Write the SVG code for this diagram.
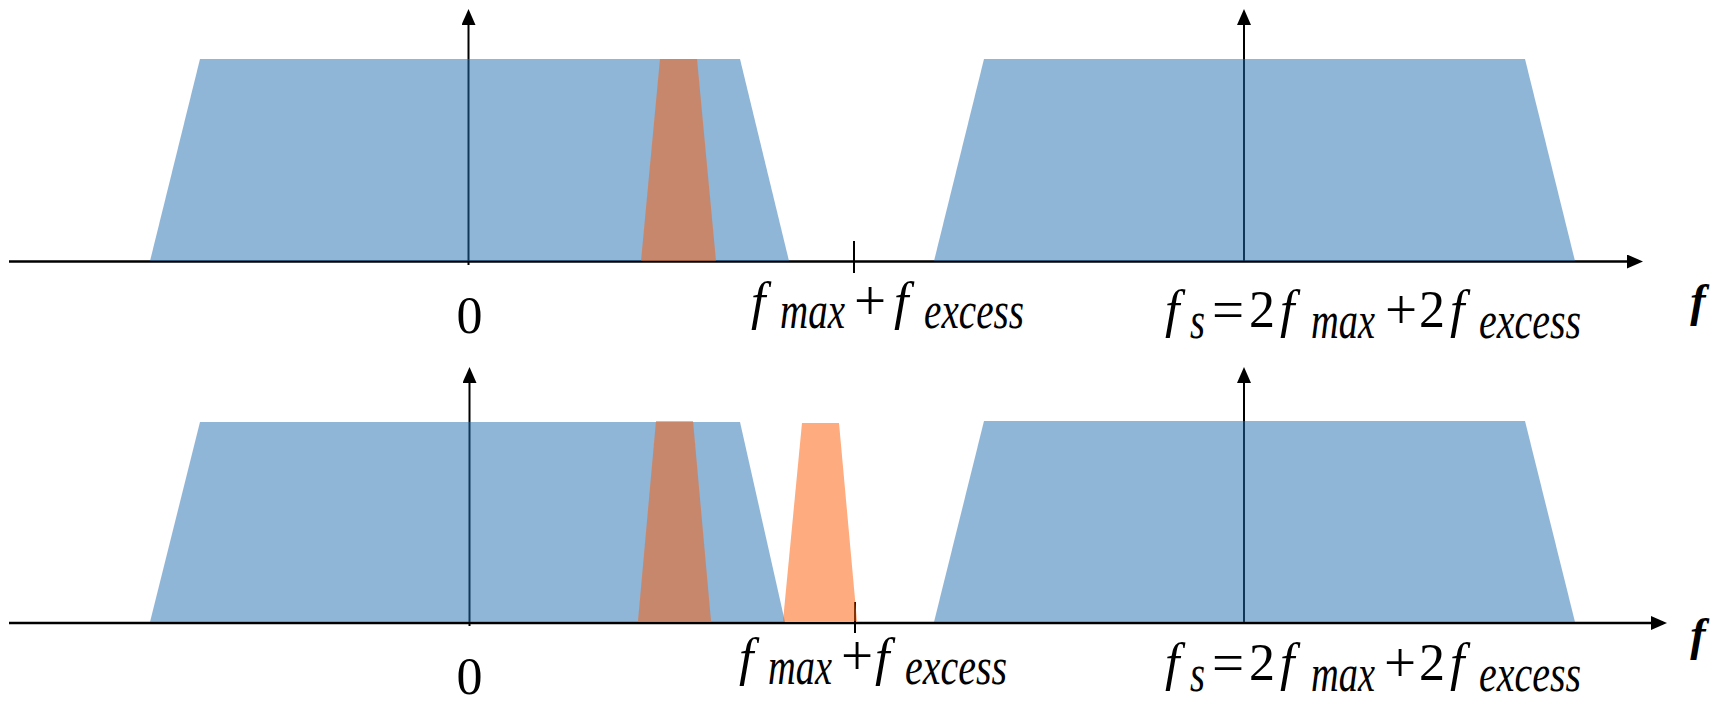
<svg xmlns="http://www.w3.org/2000/svg" width="1722" height="704" viewBox="0 0 1722 704">
<defs>
<marker id="arr" viewBox="0 0 16 14" markerWidth="16" markerHeight="14" refX="12" refY="7" markerUnits="userSpaceOnUse" orient="auto">
<path d="M0,0 L16,7 L0,14 z" fill="#000"/>
</marker>
</defs>
<style>
.ax{stroke:#000;stroke-width:2.5;fill:none}
.vax{stroke:#000;stroke-width:2;fill:none}
.tick{stroke:#000;stroke-width:2;fill:none}
.blue{fill:#1F6BAF;fill-opacity:0.5}
.orng{fill:#FB5D0A;fill-opacity:0.52}
.t{font-family:"Liberation Serif","Times New Roman",serif;font-style:italic;font-size:52px;fill:#000}
.c{text-anchor:middle}
.n{font-style:normal}
.op{font-style:normal;font-size:57px}
.fb{font-family:"Liberation Serif","Times New Roman",serif;font-style:italic;font-weight:bold;font-size:46px;text-anchor:middle;fill:#000}
</style>
<rect width="1722" height="704" fill="#fff"/>
<g id="connectors">
<line class="ax" x1="9" y1="261.5" x2="1639" y2="261.5" marker-end="url(#arr)"/>
<line class="vax" x1="468.5" y1="265" x2="468.5" y2="13" marker-end="url(#arr)"/>
<line class="vax" x1="1244" y1="262" x2="1244" y2="13" marker-end="url(#arr)"/>
<line class="tick" x1="854" y1="241" x2="854" y2="273"/>
<line class="ax" x1="9" y1="623" x2="1663" y2="623" marker-end="url(#arr)"/>
<line class="vax" x1="469.5" y1="626" x2="469.5" y2="371" marker-end="url(#arr)"/>
<line class="vax" x1="1244" y1="624" x2="1244" y2="371" marker-end="url(#arr)"/>
<line class="tick" x1="855" y1="602" x2="855" y2="633"/>
</g>
<g id="top-spectrum-baseband"><polygon class="blue" points="200,59 740,59 789,261 150,261"/></g>
<g id="top-spectrum-image"><polygon class="blue" points="984,59 1525,59 1575,261 934,261"/></g>
<g id="top-signal"><polygon class="orng" points="660,59 697,59 716,261 641,261"/></g>
<g id="bottom-spectrum-baseband"><polygon class="blue" points="200,422 740,422 785,622 150,622"/></g>
<g id="bottom-spectrum-image"><polygon class="blue" points="984,421 1525,421 1575,622 934,622"/></g>
<g id="bottom-signal"><polygon class="orng" points="656,421 693,421 711,621 638,621"/></g>
<g id="bottom-alias"><polygon class="orng" points="802,423 839,423 857,621 783,621"/></g>
<g id="top-label-zero"><text class="t n c" x="469.5" y="333">0</text></g>
<g id="top-label-fmax">
<text class="t"><tspan x="751" y="319">f</tspan><tspan x="780" y="328" textLength="65" lengthAdjust="spacingAndGlyphs">max</tspan><tspan class="op" x="854" y="320">+</tspan><tspan x="894" y="319">f</tspan><tspan x="924" y="328" textLength="100" lengthAdjust="spacingAndGlyphs">excess</tspan></text>
</g>
<g id="top-label-fs">
<text class="t"><tspan x="1165" y="327">f</tspan><tspan x="1190" y="338" textLength="15" lengthAdjust="spacingAndGlyphs">s</tspan><tspan class="op" x="1212" y="329">=</tspan><tspan class="n" x="1249" y="327">2</tspan><tspan x="1280" y="327">f</tspan><tspan x="1311" y="338" textLength="64" lengthAdjust="spacingAndGlyphs">max</tspan><tspan class="op" x="1385" y="329">+</tspan><tspan class="n" x="1419" y="327">2</tspan><tspan x="1450" y="327">f</tspan><tspan x="1479" y="338" textLength="102" lengthAdjust="spacingAndGlyphs">excess</tspan></text>
</g>
<g id="top-axis-label"><text class="fb" x="1698" y="316">f</text></g>
<g id="bottom-label-zero"><text class="t n c" x="469.5" y="694">0</text></g>
<g id="bottom-label-fmax">
<text class="t"><tspan x="739" y="675">f</tspan><tspan x="768" y="684" textLength="64" lengthAdjust="spacingAndGlyphs">max</tspan><tspan class="op" x="841" y="675">+</tspan><tspan x="875" y="675">f</tspan><tspan x="905" y="684" textLength="102" lengthAdjust="spacingAndGlyphs">excess</tspan></text>
</g>
<g id="bottom-label-fs">
<text class="t"><tspan x="1165" y="680">f</tspan><tspan x="1190" y="691" textLength="15" lengthAdjust="spacingAndGlyphs">s</tspan><tspan class="op" x="1212" y="682">=</tspan><tspan class="n" x="1249" y="680">2</tspan><tspan x="1280" y="680">f</tspan><tspan x="1311" y="691" textLength="64" lengthAdjust="spacingAndGlyphs">max</tspan><tspan class="op" x="1384" y="682">+</tspan><tspan class="n" x="1419" y="680">2</tspan><tspan x="1450" y="680">f</tspan><tspan x="1479" y="691" textLength="102" lengthAdjust="spacingAndGlyphs">excess</tspan></text>
</g>
<g id="bottom-axis-label"><text class="fb" x="1698" y="650">f</text></g>
</svg>
